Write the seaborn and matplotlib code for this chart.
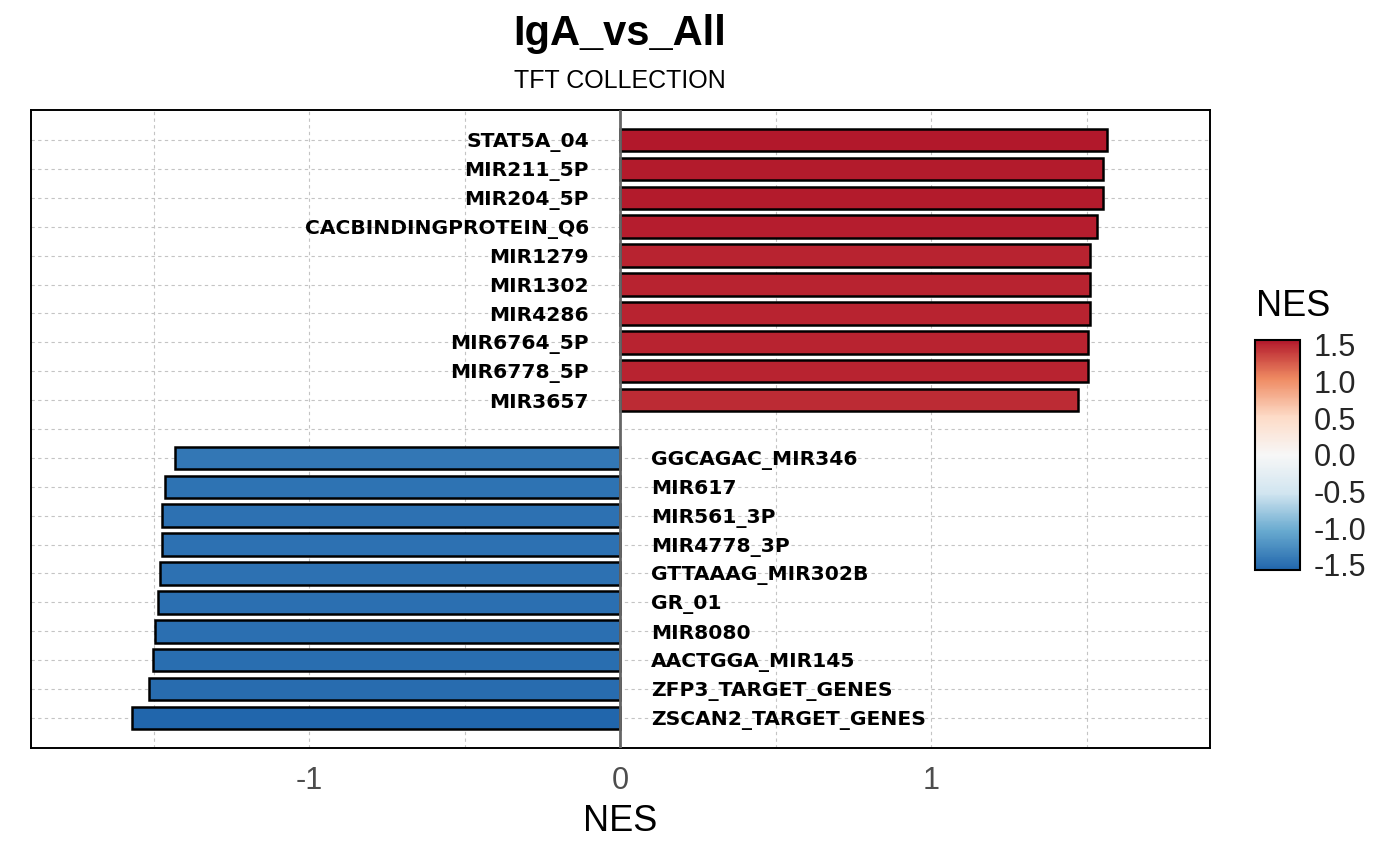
import numpy as np
import pandas as pd
import matplotlib
matplotlib.use("Agg")
import matplotlib.pyplot as plt
import seaborn as sns
from matplotlib.colors import LinearSegmentedColormap, Normalize
from matplotlib.cm import ScalarMappable
from matplotlib.ticker import MultipleLocator

# top enriched (positive NES) and bottom (negative NES) gene sets
up_pathways = ["STAT5A_04", "MIR211_5P", "MIR204_5P", "CACBINDINGPROTEIN_Q6", "MIR1279",
               "MIR1302", "MIR4286", "MIR6764_5P", "MIR6778_5P", "MIR3657"]
up_nes = [1.566, 1.553, 1.553, 1.534, 1.511, 1.511, 1.511, 1.505, 1.505, 1.473]

down_pathways = ["GGCAGAC_MIR346", "MIR617", "MIR561_3P", "MIR4778_3P", "GTTAAAG_MIR302B",
                 "GR_01", "MIR8080", "AACTGGA_MIR145", "ZFP3_TARGET_GENES", "ZSCAN2_TARGET_GENES"]
down_nes = [-1.431, -1.463, -1.473, -1.473, -1.479, -1.486, -1.495, -1.502, -1.514, -1.569]

title = "IgA_vs_All"
subtitle = "TFT COLLECTION"

# RdBu (7 class) as used by ggplot's distiller
rdbu = ["#2166ac", "#67a9cf", "#d1e5f0", "#f7f7f7", "#fddbc7", "#ef8a62", "#b2182b"]
cmap = LinearSegmentedColormap.from_list("rdbu", rdbu)

gap = " "
df = pd.DataFrame({
    "pathway": up_pathways + [gap] + down_pathways,
    "NES": up_nes + [np.nan] + down_nes,
})
order = df["pathway"].tolist()

vmin, vmax = min(down_nes), max(up_nes)
norm = Normalize(vmin=vmin, vmax=vmax)
palette = {p: cmap(norm(v)) if not np.isnan(v) else "white" for p, v in zip(df["pathway"], df["NES"])}

sns.set_style("white")
plt.rcParams["font.family"] = ["Liberation Sans", "DejaVu Sans"]
plt.rcParams["text.color"] = "black"
plt.rcParams["axes.labelcolor"] = "black"

fig = plt.figure(figsize=(14, 8.65), dpi=100)
ax = fig.add_axes([31 / 1400, 1 - 748 / 865, (1210 - 31) / 1400, (748 - 110) / 865])

sns.barplot(data=df, x="NES", y="pathway", hue="pathway", order=order, hue_order=order,
            palette=palette, saturation=1, legend=False, orient="h", width=0.78,
            edgecolor="black", linewidth=1.8, ax=ax, zorder=2)

ax.set_xlim(-1.895, 1.897)
ax.set_ylim(len(order) - 1 + 1.04, -1.04)

ax.xaxis.set_major_locator(MultipleLocator(1))
ax.xaxis.set_minor_locator(MultipleLocator(0.5))
ax.set_axisbelow(True)
ax.grid(which="both", axis="both", linestyle=(0, (3, 3)), color="#c4c4c4", linewidth=0.8)
ax.axvline(0, color="#666666", linewidth=2, zorder=3)

ax.tick_params(axis="y", length=0, labelleft=False)
ax.tick_params(axis="x", which="major", length=7, width=1.5, color="#4d4d4d",
               labelsize=22, labelcolor="#4d4d4d", pad=6)
ax.tick_params(axis="x", which="minor", length=0)
ax.set_xticks([-1, 0, 1])
ax.set_xticklabels(["-1", "0", "1"])
ax.set_ylabel("")
ax.set_xlabel("NES", fontsize=26, labelpad=6)

for s in ax.spines.values():
    s.set_color("black")
    s.set_linewidth(1.4)

# gene set names beside the zero line
for i, (p, v) in enumerate(zip(df["pathway"], df["NES"])):
    if np.isnan(v):
        continue
    if v > 0:
        ax.text(-0.1, i, p, ha="right", va="center_baseline", fontsize=14.6, fontweight="bold",
                family="DejaVu Sans", zorder=4)
    else:
        ax.text(0.1, i, p, ha="left", va="center_baseline", fontsize=14.6, fontweight="bold",
                family="DejaVu Sans", zorder=4)

fig.text(620 / 1400, 1 - 45 / 865, title, ha="center", va="baseline", fontsize=30, fontweight="bold")
fig.text(620 / 1400, 1 - 87.5 / 865, subtitle, ha="center", va="baseline", fontsize=18)

# colour bar
cax = fig.add_axes([1255 / 1400, 1 - 570 / 865, 45 / 1400, 230 / 865])
cb = fig.colorbar(ScalarMappable(norm=norm, cmap=cmap), cax=cax)
cb.set_ticks([-1.5, -1.0, -0.5, 0.0, 0.5, 1.0, 1.5])
cb.set_ticklabels(["-1.5", "-1.0", "-0.5", "0.0", "0.5", "1.0", "1.5"])
cax.tick_params(direction="in", left=True, right=True, length=6, width=1, color="#333333",
                labelsize=22, pad=10)
cb.outline.set_linewidth(1.5)
cb.outline.set_edgecolor("black")
fig.text(1256 / 1400, 1 - 307 / 865, "NES", ha="left", va="center", fontsize=26)

fig.savefig("out.png", dpi=100)
